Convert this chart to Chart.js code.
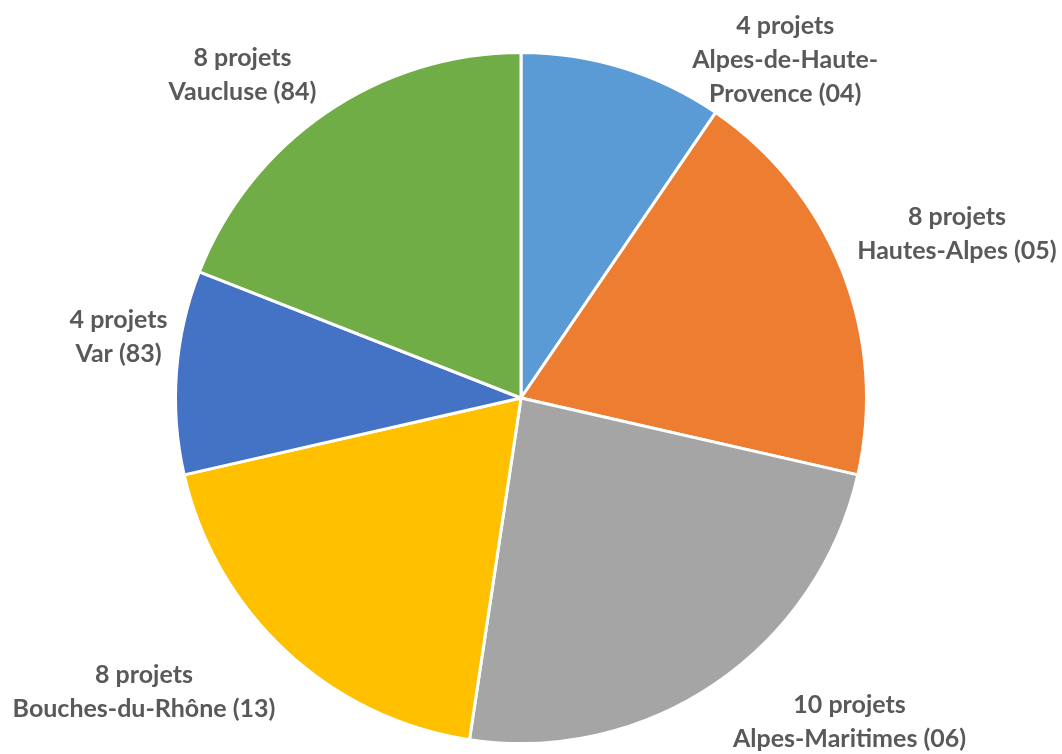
<!DOCTYPE html>
<html>
<head>
<meta charset="utf-8">
<script src="https://cdn.jsdelivr.net/npm/chart.js@4.4.1/dist/chart.umd.min.js"></script>
<style>
  html, body { margin: 0; padding: 0; background: #fff; }
  #wrap { width: 1062px; height: 754px; }
</style>
</head>
<body>
<div id="wrap"><canvas id="pieDepartements"></canvas></div>
<script>
// departements et nombre de projets
var departements = ["Alpes-de-Haute-Provence (04)", "Hautes-Alpes (05)", "Alpes-Maritimes (06)",
                    "Bouches-du-Rhône (13)", "Var (83)", "Vaucluse (84)"];
var projets = [4, 8, 10, 8, 4, 8];
// label text lines (Excel wraps the first one)
var labelLines = [
  ["Alpes-de-Haute-", "Provence (04)"],
  ["Hautes-Alpes (05)"],
  ["Alpes-Maritimes (06)"],
  ["Bouches-du-Rhône (13)"],
  ["Var (83)"],
  ["Vaucluse (84)"]
];
var couleurs = ["#5B9BD5", "#ED7D31", "#A5A5A5", "#FFC000", "#4472C4", "#70AD47"];

// small nudges from the default anchor, like Excel's best fit
var labelNudge = [[142, 58], [50, -13], [95, -19], [-95, -10], [11, -30], [-45, 19]];

var outsideLabels = {
  id: 'outsideLabels',
  afterDatasetsDraw: function (chart) {
    var ctx = chart.ctx;
    var meta = chart.getDatasetMeta(0);
    ctx.save();
    ctx.font = "bold 25px Lato";
    ctx.fillStyle = "#595959";
    ctx.textAlign = "center";
    ctx.textBaseline = "middle";
    var lh = 34;
    meta.data.forEach(function (arc, i) {
      var mid = (arc.startAngle + arc.endAngle) / 2;
      var r = arc.outerRadius * 1.2;
      var x = arc.x + Math.cos(mid) * r + labelNudge[i][0];
      var y = arc.y + Math.sin(mid) * r + labelNudge[i][1];
      var lines = [projets[i] + " projets"].concat(labelLines[i]);
      var top = y - (lines.length - 1) * lh / 2;
      lines.forEach(function (t, k) {
        ctx.fillText(t, x, top + k * lh);
      });
    });
    ctx.restore();
  }
};

var ctx = document.getElementById("pieDepartements").getContext("2d");
var chart = new Chart(ctx, {
  type: 'pie',
  data: {
    labels: departements,
    datasets: [{
      data: projets,
      backgroundColor: couleurs,
      borderColor: "#ffffff",
      borderWidth: 3
    }]
  },
  options: {
    responsive: true,
    maintainAspectRatio: false,
    animation: false,
    layout: { padding: { top: 51, bottom: 9, left: 174, right: 194 } },
    plugins: {
      legend: { display: false },
      tooltip: { enabled: false }
    }
  },
  plugins: [outsideLabels]
});
</script>
</body>
</html>
